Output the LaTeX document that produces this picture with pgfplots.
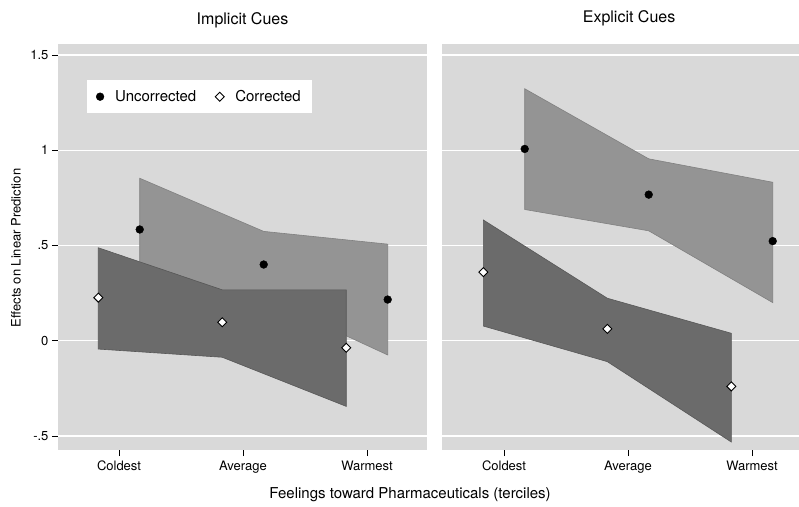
\documentclass[border=0pt]{standalone}
\usepackage{fontspec}
\setmainfont{TeX Gyre Heros}
\usepackage{pgfplots}
\pgfplotsset{compat=1.18}
\definecolor{bg}{gray}{0.85}
\definecolor{lightband}{gray}{0.58}
\definecolor{lightedge}{gray}{0.50}
\definecolor{darkband}{gray}{0.42}
\definecolor{darkedge}{gray}{0.34}
\pgfplotsset{
  panel/.style={
    scale only axis, anchor=south west, height=406pt,
    ymin=-0.574, ymax=1.558,
    axis background/.style={fill=bg},
    axis line style={draw=none},
    ytick={-0.5,0,0.5,1,1.5},
    xtick={1,2,3}, xticklabels={Coldest,Average,Warmest},
    tick pos=left, tick align=outside, major tick length=6pt,
    tick style={black, line width=0.6pt},
    ymajorgrids, grid style={white, line width=1.3pt},
    tick label style={font=\fontsize{13}{15}\selectfont},
    xticklabel style={yshift=-1.5pt},
    title style={font=\fontsize{16}{19}\selectfont, anchor=base},
    clip=false,
  },
  unc/.style={only marks, mark=*, mark size=3.9pt, mark options={fill=black, draw=black}},
  cor/.style={only marks, mark=square*, mark size=3.2pt, mark options={rotate=45, fill=white, draw=black, line width=0.9pt}},
}
\begin{document}
\begin{tikzpicture}
\useasboundingbox (0,0) rectangle (799pt,506pt);
\begin{axis}[panel, at={(58pt,56pt)}, width=369pt, xmin=0.508, xmax=3.484,
  yticklabels={-.5,0,.5,1,1.5},
  title={Implicit Cues}, title style={at={(0.5,1)}, yshift=13pt},
  legend style={at={(0.0786,0.911)}, anchor=north west, draw=none, fill=white,
    inner xsep=9pt, inner ysep=8pt, font=\fontsize{15}{18}\selectfont,
    /tikz/every odd column/.append style={column sep=9pt},
    /tikz/every even column/.append style={column sep=17pt}},
  legend columns=2]
\addplot[fill=lightband, draw=lightedge, line width=0.6pt, forget plot] coordinates {(1.167,0.853) (2.167,0.574) (3.167,0.507) (3.167,-0.075) (2.167,0.226) (1.167,0.315)} -- cycle;
\addplot[fill=darkband, draw=darkedge, line width=0.6pt, forget plot] coordinates {(0.833,0.488) (1.833,0.267) (2.833,0.267) (2.833,-0.345) (1.833,-0.087) (0.833,-0.044)} -- cycle;
\addplot[unc] coordinates {(1.167,0.584) (2.167,0.400) (3.167,0.216)};
\addplot[cor] coordinates {(0.833,0.226) (1.833,0.097) (2.833,-0.037)};
\legend{Uncorrected, Corrected}
\end{axis}
\begin{axis}[panel, at={(442pt,56pt)}, width=357pt, xmin=0.5, xmax=3.379,
  yticklabels={}, ytick style={draw=none},
  title={Explicit Cues}, title style={at={(0.524,1)}, yshift=15pt}]
\addplot[fill=lightband, draw=lightedge, line width=0.6pt, forget plot] coordinates {(1.167,1.323) (2.167,0.955) (3.167,0.832) (3.167,0.200) (2.167,0.577) (1.167,0.689)} -- cycle;
\addplot[fill=darkband, draw=darkedge, line width=0.6pt, forget plot] coordinates {(0.833,0.634) (1.833,0.223) (2.833,0.039) (2.833,-0.532) (1.833,-0.110) (0.833,0.077)} -- cycle;
\addplot[unc] coordinates {(1.167,1.007) (2.167,0.767) (3.167,0.523)};
\addplot[cor] coordinates {(0.833,0.360) (1.833,0.062) (2.833,-0.240)};
\end{axis}
\node[rotate=90, font=\fontsize{13}{15}\selectfont] at (16pt,258pt) {Effects on Linear Prediction};
\node[font=\fontsize{15}{18}\selectfont] at (410pt,11pt) {Feelings toward Pharmaceuticals (terciles)};
\end{tikzpicture}
\end{document}
